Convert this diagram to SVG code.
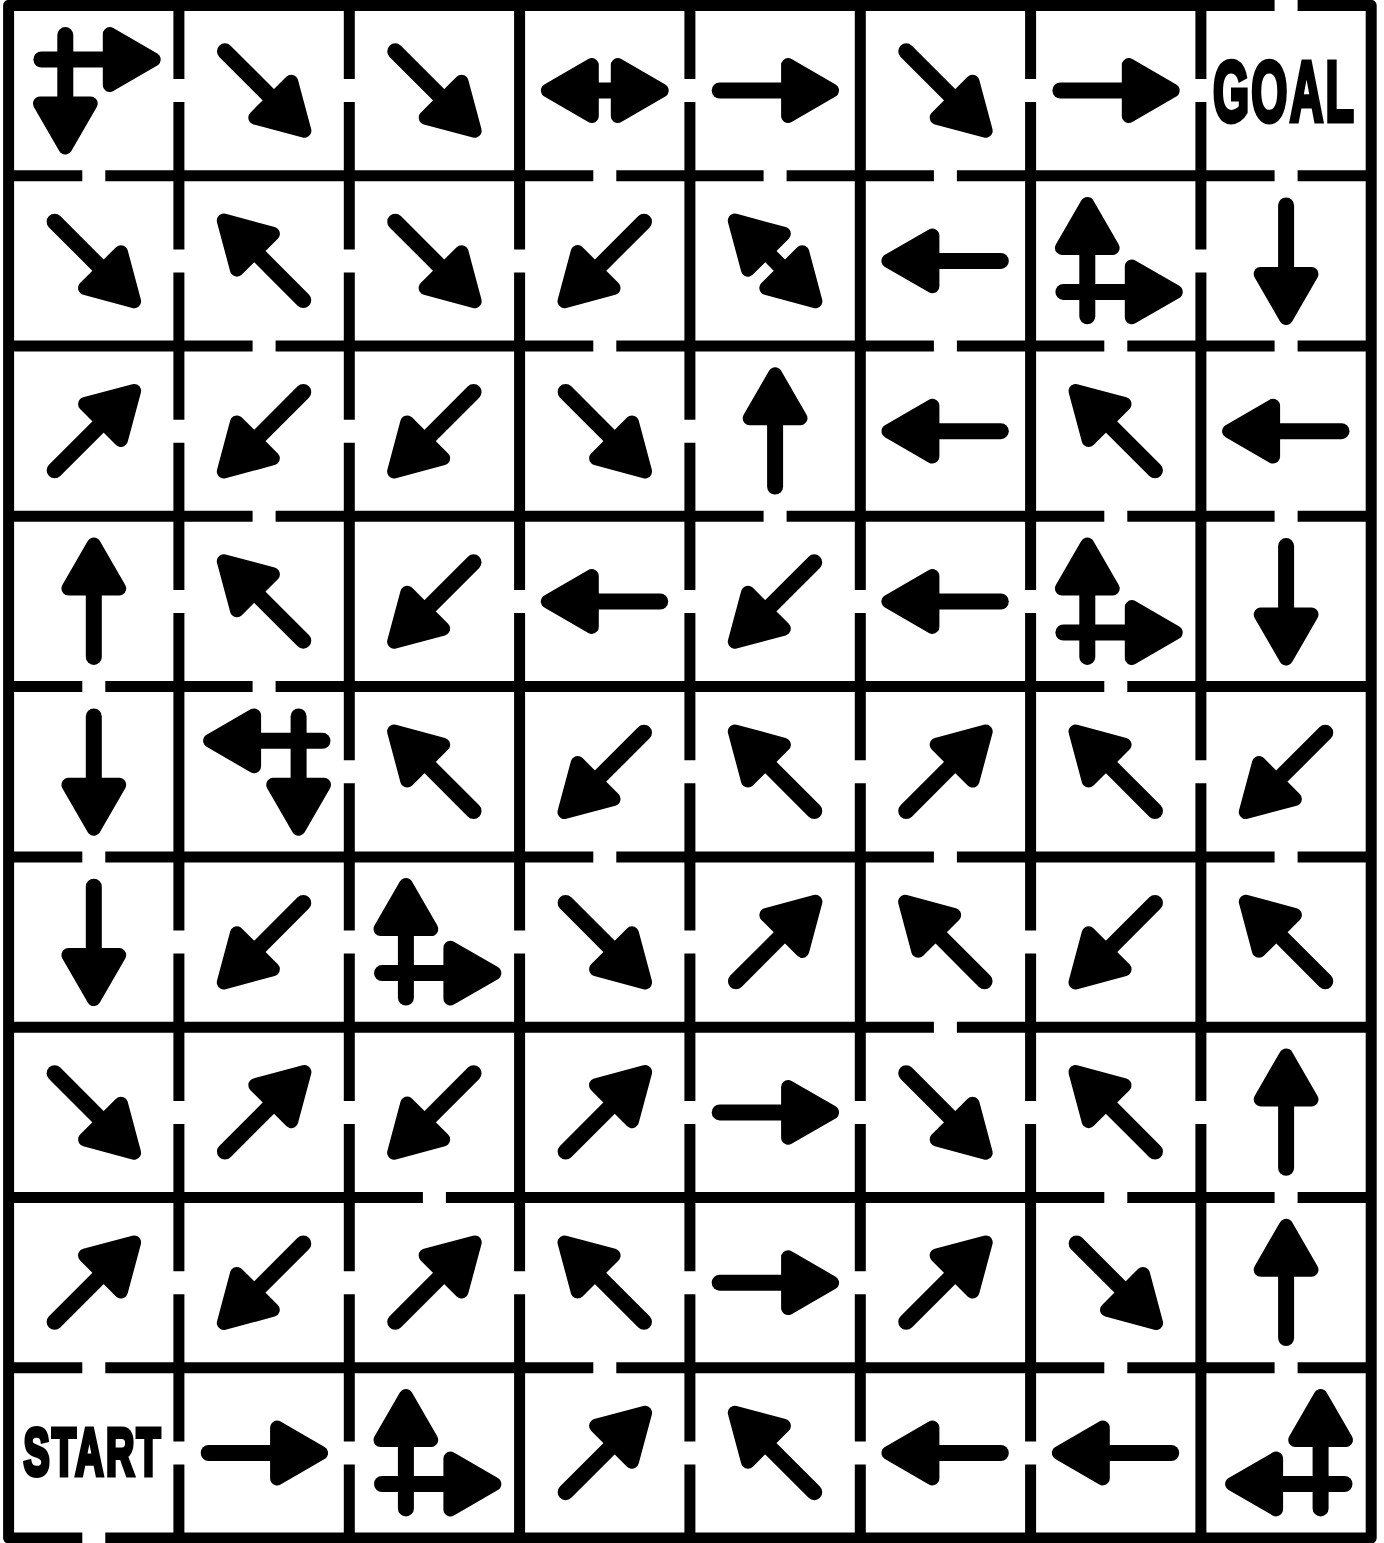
<svg xmlns="http://www.w3.org/2000/svg" width="1384" height="1543" viewBox="0 0 1384 1543">
<style>
.w{fill:none;stroke:#000;stroke-width:11;stroke-linecap:butt;stroke-linejoin:round}
.lbl{font-family:"Liberation Sans",Arial,sans-serif;font-weight:bold;fill:#000;stroke:#000;stroke-width:4;stroke-linejoin:miter;vector-effect:non-scaling-stroke;letter-spacing:4px}
</style>
<defs>
<path id="hd" d="M13 -25.4L57 0L13 25.4Z" fill="#000" stroke="#000" stroke-width="14" stroke-linejoin="round"/>
<g id="a"><path d="M-55.4 0H20" stroke="#000" stroke-width="16" stroke-linecap="round" fill="none"/><use href="#hd"/></g>
<g id="dbl"><path d="M-16 0H16" stroke="#000" stroke-width="16" fill="none"/><use href="#hd"/><use href="#hd" transform="scale(-1 1)"/></g>
</defs>
<rect width="1384" height="1543" fill="#fff"/>
<g id="walls">
<path class="w" d="M1297.6 5.4H1371.2V1538.1H105.3M82.3 1538.1H8.6V5.4H1274.6"/>
<path class="w" d="M8.6 175.7H82.3M105.3 175.7H593.3M616.3 175.7H763.6M786.6 175.7H933.9M956.9 175.7H1274.6M1297.6 175.7H1371.2"/>
<path class="w" d="M8.6 346H252.6M275.6 346H593.3M616.3 346H933.9M956.9 346H1104.3M1127.3 346H1274.6M1297.6 346H1371.2"/>
<path class="w" d="M8.6 516.3H252.6M275.6 516.3H763.6M786.6 516.3H1104.3M1127.3 516.3H1274.6M1297.6 516.3H1371.2"/>
<path class="w" d="M8.6 686.6H82.3M105.3 686.6H252.6M275.6 686.6H1104.3M1127.3 686.6H1371.2"/>
<path class="w" d="M8.6 856.9H82.3M105.3 856.9H593.3M616.3 856.9H933.9M956.9 856.9H1274.6M1297.6 856.9H1371.2"/>
<path class="w" d="M8.6 1027.2H933.9M956.9 1027.2H1371.2"/>
<path class="w" d="M8.6 1197.5H422.9M445.9 1197.5H1104.3M1127.3 1197.5H1274.6M1297.6 1197.5H1371.2"/>
<path class="w" d="M8.6 1367.8H82.3M105.3 1367.8H593.3M616.3 1367.8H1104.3M1127.3 1367.8H1274.6M1297.6 1367.8H1371.2"/>
<path class="w" d="M178.9 5.4V79M178.9 102V249.4M178.9 272.4V419.7M178.9 442.7V590M178.9 613V930.6M178.9 953.6V1100.9M178.9 1123.9V1271.2M178.9 1294.2V1441.5M178.9 1464.5V1538.1"/>
<path class="w" d="M349.3 5.4V79M349.3 102V249.4M349.3 272.4V419.7M349.3 442.7V760.3M349.3 783.3V930.6M349.3 953.6V1100.9M349.3 1123.9V1271.2M349.3 1294.2V1441.5M349.3 1464.5V1538.1"/>
<path class="w" d="M519.6 5.4V249.4M519.6 272.4V590M519.6 613V930.6M519.6 953.6V1271.2M519.6 1294.2V1538.1"/>
<path class="w" d="M689.9 5.4V79M689.9 102V419.7M689.9 442.7V590M689.9 613V760.3M689.9 783.3V930.6M689.9 953.6V1100.9M689.9 1123.9V1271.2M689.9 1294.2V1441.5M689.9 1464.5V1538.1"/>
<path class="w" d="M860.3 5.4V590M860.3 613V760.3M860.3 783.3V1100.9M860.3 1123.9V1271.2M860.3 1294.2V1441.5M860.3 1464.5V1538.1"/>
<path class="w" d="M1030.6 5.4V79M1030.6 102V590M1030.6 613V930.6M1030.6 953.6V1100.9M1030.6 1123.9V1441.5M1030.6 1464.5V1538.1"/>
<path class="w" d="M1200.9 5.4V79M1200.9 102V249.4M1200.9 272.4V760.3M1200.9 783.3V1100.9M1200.9 1123.9V1538.1"/>
</g>
<g id="cell-0-0"><use href="#a" transform="translate(96.8 59.5)"/><use href="#a" transform="translate(65.3 90.5) rotate(90)"/></g>
<g id="cell-0-1"><use href="#a" transform="translate(264.1 90.5) rotate(45)"/></g>
<g id="cell-0-2"><use href="#a" transform="translate(434.4 90.5) rotate(45)"/></g>
<g id="cell-0-3"><use href="#dbl" transform="translate(604.8 90.5)"/></g>
<g id="cell-0-4"><use href="#a" transform="translate(775.1 90.5)"/></g>
<g id="cell-0-5"><use href="#a" transform="translate(945.4 90.5) rotate(45)"/></g>
<g id="cell-0-6"><use href="#a" transform="translate(1115.8 90.5)"/></g>
<g id="cell-0-7"><text class="lbl" font-size="84.4" transform="translate(1213 120.7) scale(0.551 1)">GOAL</text></g>

<g id="cell-1-0"><use href="#a" transform="translate(93.8 260.9) rotate(45)"/></g>
<g id="cell-1-1"><use href="#a" transform="translate(264.1 260.9) rotate(-135)"/></g>
<g id="cell-1-2"><use href="#a" transform="translate(434.4 260.9) rotate(45)"/></g>
<g id="cell-1-3"><use href="#a" transform="translate(604.8 260.9) rotate(135)"/></g>
<g id="cell-1-4"><use href="#dbl" transform="translate(775.1 260.9) rotate(45)"/></g>
<g id="cell-1-5"><use href="#a" transform="translate(945.4 260.9) rotate(180)"/></g>
<g id="cell-1-6"><use href="#a" transform="translate(1118.8 291.9)"/><use href="#a" transform="translate(1087.3 260.9) rotate(-90)"/></g>
<g id="cell-1-7"><use href="#a" transform="translate(1286.1 260.9) rotate(90)"/></g>

<g id="cell-2-0"><use href="#a" transform="translate(93.8 431.2) rotate(-45)"/></g>
<g id="cell-2-1"><use href="#a" transform="translate(264.1 431.2) rotate(135)"/></g>
<g id="cell-2-2"><use href="#a" transform="translate(434.4 431.2) rotate(135)"/></g>
<g id="cell-2-3"><use href="#a" transform="translate(604.8 431.2) rotate(45)"/></g>
<g id="cell-2-4"><use href="#a" transform="translate(775.1 431.2) rotate(-90)"/></g>
<g id="cell-2-5"><use href="#a" transform="translate(945.4 431.2) rotate(180)"/></g>
<g id="cell-2-6"><use href="#a" transform="translate(1115.8 431.2) rotate(-135)"/></g>
<g id="cell-2-7"><use href="#a" transform="translate(1286.1 431.2) rotate(180)"/></g>

<g id="cell-3-0"><use href="#a" transform="translate(93.8 601.5) rotate(-90)"/></g>
<g id="cell-3-1"><use href="#a" transform="translate(264.1 601.5) rotate(-135)"/></g>
<g id="cell-3-2"><use href="#a" transform="translate(434.4 601.5) rotate(135)"/></g>
<g id="cell-3-3"><use href="#a" transform="translate(604.8 601.5) rotate(180)"/></g>
<g id="cell-3-4"><use href="#a" transform="translate(775.1 601.5) rotate(135)"/></g>
<g id="cell-3-5"><use href="#a" transform="translate(945.4 601.5) rotate(180)"/></g>
<g id="cell-3-6"><use href="#a" transform="translate(1118.8 632.5)"/><use href="#a" transform="translate(1087.3 601.5) rotate(-90)"/></g>
<g id="cell-3-7"><use href="#a" transform="translate(1286.1 601.5) rotate(90)"/></g>

<g id="cell-4-0"><use href="#a" transform="translate(93.8 771.8) rotate(90)"/></g>
<g id="cell-4-1"><use href="#a" transform="translate(267.1 740.8) rotate(180)"/><use href="#a" transform="translate(298.6 771.8) rotate(90)"/></g>
<g id="cell-4-2"><use href="#a" transform="translate(434.4 771.8) rotate(-135)"/></g>
<g id="cell-4-3"><use href="#a" transform="translate(604.8 771.8) rotate(135)"/></g>
<g id="cell-4-4"><use href="#a" transform="translate(775.1 771.8) rotate(-135)"/></g>
<g id="cell-4-5"><use href="#a" transform="translate(945.4 771.8) rotate(-45)"/></g>
<g id="cell-4-6"><use href="#a" transform="translate(1115.8 771.8) rotate(-135)"/></g>
<g id="cell-4-7"><use href="#a" transform="translate(1286.1 771.8) rotate(135)"/></g>

<g id="cell-5-0"><use href="#a" transform="translate(93.8 942.1) rotate(90)"/></g>
<g id="cell-5-1"><use href="#a" transform="translate(264.1 942.1) rotate(135)"/></g>
<g id="cell-5-2"><use href="#a" transform="translate(437.4 973.1)"/><use href="#a" transform="translate(405.9 942.1) rotate(-90)"/></g>
<g id="cell-5-3"><use href="#a" transform="translate(604.8 942.1) rotate(45)"/></g>
<g id="cell-5-4"><use href="#a" transform="translate(775.1 942.1) rotate(-45)"/></g>
<g id="cell-5-5"><use href="#a" transform="translate(945.4 942.1) rotate(-135)"/></g>
<g id="cell-5-6"><use href="#a" transform="translate(1115.8 942.1) rotate(135)"/></g>
<g id="cell-5-7"><use href="#a" transform="translate(1286.1 942.1) rotate(-135)"/></g>

<g id="cell-6-0"><use href="#a" transform="translate(93.8 1112.4) rotate(45)"/></g>
<g id="cell-6-1"><use href="#a" transform="translate(264.1 1112.4) rotate(-45)"/></g>
<g id="cell-6-2"><use href="#a" transform="translate(434.4 1112.4) rotate(135)"/></g>
<g id="cell-6-3"><use href="#a" transform="translate(604.8 1112.4) rotate(-45)"/></g>
<g id="cell-6-4"><use href="#a" transform="translate(775.1 1112.4)"/></g>
<g id="cell-6-5"><use href="#a" transform="translate(945.4 1112.4) rotate(45)"/></g>
<g id="cell-6-6"><use href="#a" transform="translate(1115.8 1112.4) rotate(-135)"/></g>
<g id="cell-6-7"><use href="#a" transform="translate(1286.1 1112.4) rotate(-90)"/></g>

<g id="cell-7-0"><use href="#a" transform="translate(93.8 1282.7) rotate(-45)"/></g>
<g id="cell-7-1"><use href="#a" transform="translate(264.1 1282.7) rotate(135)"/></g>
<g id="cell-7-2"><use href="#a" transform="translate(434.4 1282.7) rotate(-45)"/></g>
<g id="cell-7-3"><use href="#a" transform="translate(604.8 1282.7) rotate(-135)"/></g>
<g id="cell-7-4"><use href="#a" transform="translate(775.1 1282.7)"/></g>
<g id="cell-7-5"><use href="#a" transform="translate(945.4 1282.7) rotate(-45)"/></g>
<g id="cell-7-6"><use href="#a" transform="translate(1115.8 1282.7) rotate(45)"/></g>
<g id="cell-7-7"><use href="#a" transform="translate(1286.1 1282.7) rotate(-90)"/></g>

<g id="cell-8-0"><text class="lbl" font-size="67.5" transform="translate(23.4 1475.3) scale(0.581 1)">START</text></g>
<g id="cell-8-1"><use href="#a" transform="translate(264.1 1453)"/></g>
<g id="cell-8-2"><use href="#a" transform="translate(437.4 1484)"/><use href="#a" transform="translate(405.9 1453) rotate(-90)"/></g>
<g id="cell-8-3"><use href="#a" transform="translate(604.8 1453) rotate(-45)"/></g>
<g id="cell-8-4"><use href="#a" transform="translate(775.1 1453) rotate(-135)"/></g>
<g id="cell-8-5"><use href="#a" transform="translate(945.4 1453) rotate(180)"/></g>
<g id="cell-8-6"><use href="#a" transform="translate(1115.8 1453) rotate(180)"/></g>
<g id="cell-8-7"><use href="#a" transform="translate(1289.1 1484) rotate(180)"/><use href="#a" transform="translate(1320.6 1453) rotate(-90)"/></g>
</svg>
